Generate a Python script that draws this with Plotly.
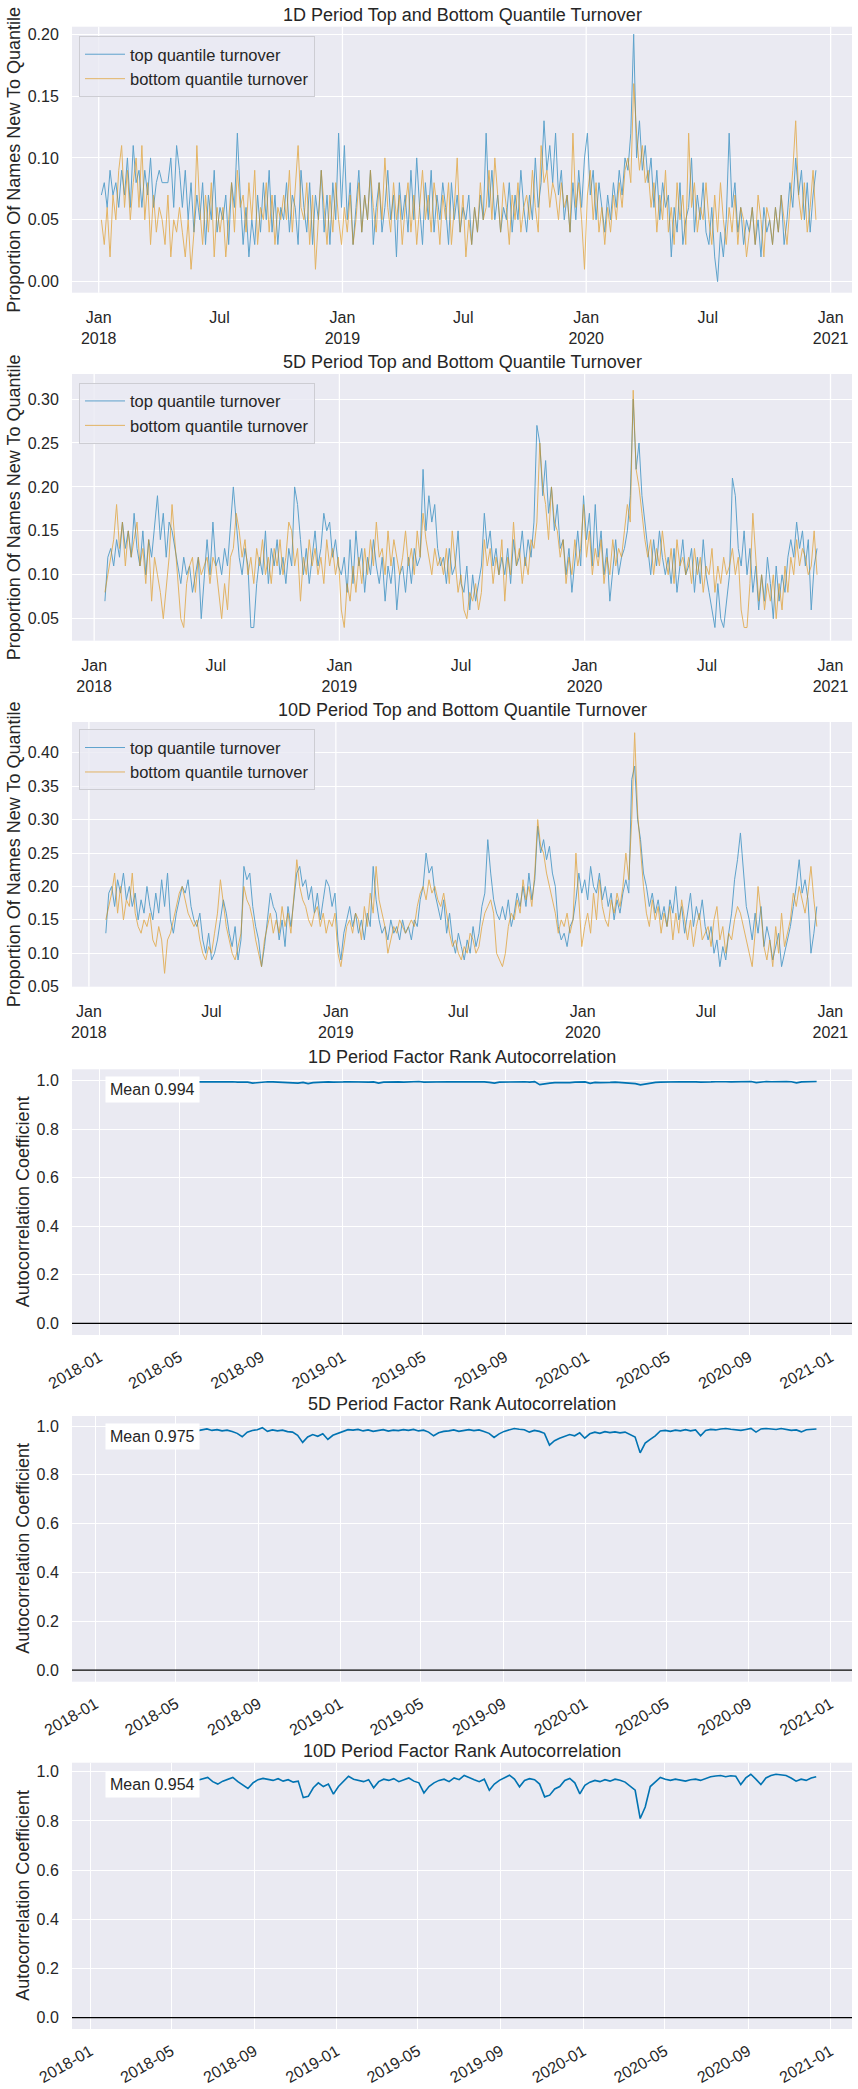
import plotly.graph_objects as go
import pandas as pd

# ------------------------------------------------------------------ data
# 1D quantile turnover (sampled ~every 3 trading days, Jan-2018 .. Dec-2020)
to1_top = [
    .07,.08,.06,.09,.07,.08,.06, .09,.07,.10,.06,.11,.08,.09, .06,.09,.07,.10,.06,.08,.09,
    .08,.08,.08,.10,.06,.11,.09, .06,.09,.05,.08,.04,.07,.05, .08,.03,.07,.05,.09,.04,.06,
    .05,.07,.03,.08,.06,.12,.07, .03,.06,.02,.05,.03,.07,.04, .08,.05,.09,.04,.07,.03,.06,
    .05,.08,.04,.07,.06,.03,.09, .06,.04,.08,.03,.07,.05,.09, .04,.07,.03,.08,.05,.12,.06,
    .11,.05,.08,.03,.06,.09,.04, .07,.05,.09,.03,.06,.08,.04, .06,.09,.05,.07,.02,.08,.05,
    .07,.04,.09,.05,.10,.06,.03, .08,.05,.09,.04,.07,.05,.08, .06,.03,.08,.05,.07,.04,.06,
    .05,.07,.03,.06,.04,.07,.05, .12,.06,.09,.05,.07,.04,.06, .05,.08,.04,.07,.05,.09,.06,
    .04,.07,.05,.10,.06,.08,.13, .09,.11,.08,.12,.07,.09,.05, .07,.04,.08,.05,.09,.06,.10,
    .12,.07,.09,.05,.08,.06,.04, .07,.05,.08,.06,.09,.07,.10, .09,.12,.20,.10,.13,.09,.11,
    .08,.10,.06,.09,.05,.08,.06, .07,.02,.06,.04,.08,.03,.05, .06,.10,.04,.07,.05,.08,.04,
    .03,.06,.02,.00,.04,.02,.05, .12,.06,.08,.04,.06,.03,.05, .04,.06,.03,.05,.02,.06,.04,
    .05,.03,.06,.04,.07,.03,.05, .08,.06,.10,.07,.09,.05,.08, .04,.07,.09,
]
to1_bot = [
    .05,.03,.06,.02,.07,.05,.09, .11,.06,.09,.05,.08,.10,.06, .11,.05,.08,.03,.07,.04,.06,
    .05,.03,.07,.02,.05,.04,.06, .04,.02,.05,.01,.04,.11,.06, .03,.07,.04,.08,.02,.06,.04,
    .06,.02,.05,.08,.04,.09,.06, .07,.04,.08,.05,.09,.03,.06, .05,.08,.04,.07,.03,.06,.05,
    .07,.05,.09,.04,.08,.11,.06, .05,.08,.03,.07,.01,.05,.09, .06,.03,.07,.04,.08,.05,.03,
    .06,.04,.07,.03,.05,.08,.04, .07,.05,.09,.06,.04,.08,.05, .10,.06,.04,.08,.05,.07,.03,
    .06,.08,.04,.07,.03,.06,.09, .05,.07,.04,.08,.06,.03,.07, .05,.08,.03,.06,.10,.04,.07,
    .02,.05,.03,.06,.04,.08,.05, .06,.09,.05,.10,.07,.04,.08, .06,.03,.07,.05,.08,.04,.06,
    .07,.05,.09,.06,.04,.11,.08, .09,.06,.08,.07,.05,.08,.06, .07,.04,.12,.06,.08,.05,.01,
    .07,.09,.05,.08,.04,.06,.03, .06,.04,.07,.05,.08,.06,.09, .10,.08,.16,.12,.09,.11,.08,
    .09,.06,.08,.04,.07,.05,.09, .04,.06,.03,.08,.05,.07,.03, .12,.06,.08,.04,.06,.05,.08,
    .05,.03,.07,.04,.08,.05,.03, .06,.04,.07,.03,.06,.05,.02, .04,.06,.03,.07,.05,.02,.06,
    .05,.03,.06,.04,.07,.05,.03, .06,.09,.13,.07,.05,.08,.04, .06,.09,.05,
]

# 5D quantile turnover
to5_top = [
    .07,.12,.13,.11,
    .14,.12,.16,.13,.15,.12,.17, .13,.11,.15,.10,.14,.12,.16, .19,.14,.17,.12,.16,.15,.13,
    .11,.09,.12,.10,.11,.08,.10, .12,.05,.09,.14,.10,.16,.11, .12,.10,.13,.11,.15,.20,.16,
    .12,.10,.13,.11,.04,.04,.09, .12,.10,.15,.09,.13,.11,.14, .10,.12,.09,.13,.11,.20,.18,
    .14,.10,.13,.09,.12,.15,.11, .13,.17,.15,.16,.12,.14,.11,
    .10,.12,.08,.14,.09,.15,.11, .13,.08,.12,.10,.14,.11,.09, .12,.07,.11,.09,.12,.06,.10,
    .11,.08,.12,.09,.13,.11,.12, .22,.15,.19,.16,.18,.13,.11, .12,.09,.13,.10,.11,.15,.09,
    .08,.11,.06,.10,.07,.09,.11, .17,.13,.15,.11,.13,.10,.12, .10,.13,.09,.14,.11,.12,.15,
    .11,.14,.12,.16,.27,.25,.19, .23,.17,.20,.15,.18,.13,.14, .10,.13,.08,.12,.15,.11,.19,
    .14,.17,.11,.18,.12,.15,.10, .13,.07,.11,.14,.10,.12,.13, .15,.19,.30,.22,.25,.19,.16,
    .13,.10,.14,.11,.15,.12,.10, .12,.09,.13,.08,.11,.14,.10, .11,.13,.08,.12,.09,.14,.10,
    .08,.06,.04,.09,.05,.04,.07, .10,.21,.19,.13,.11,.15,.10, .13,.08,.11,.06,.10,.07,.12,
    .09,.05,.11,.07,.10,.08,.12, .14,.12,.16,.13,.15,.11,.14, .06,.11,.13,
]
to5_bot = [
    .08,.10,.12,.14,
    .18,.13,.16,.11,.15,.12,.14, .16,.11,.13,.09,.14,.07,.12, .10,.08,.05,.09,.12,.18,.14,
    .10,.05,.04,.09,.11,.12,.08, .12,.10,.11,.12,.09,.12,.11, .08,.05,.09,.06,.12,.13,.17,
    .15,.12,.14,.10,.12,.09,.13, .11,.14,.10,.12,.09,.13,.11, .14,.10,.12,.16,.15,.11,.13,
    .07,.12,.10,.14,.11,.13,.10, .12,.09,.14,.11,.13,.10,.12,
    .06,.04,.09,.07,.11,.08,.12, .09,.13,.10,.14,.11,.16,.12, .13,.10,.15,.11,.14,.12,.10,
    .12,.15,.11,.13,.10,.15,.12, .17,.14,.12,.10,.13,.11,.12, .10,.13,.09,.15,.11,.08,.10,
    .06,.05,.08,.07,.09,.06,.08, .14,.11,.13,.09,.12,.10,.14, .07,.12,.10,.16,.11,.13,.09,
    .12,.10,.14,.13,.16,.25,.20, .18,.14,.20,.16,.15,.12,.14, .09,.12,.10,.14,.11,.13,.18,
    .12,.15,.10,.13,.11,.14,.09, .12,.10,.14,.11,.13,.12,.15, .18,.16,.31,.22,.20,.17,.14,
    .12,.14,.10,.13,.11,.15,.12, .10,.13,.09,.14,.11,.12,.10, .12,.09,.13,.10,.12,.08,.11,
    .10,.13,.08,.11,.09,.12,.10, .11,.13,.10,.12,.06,.04,.04, .09,.17,.12,.07,.10,.06,.09,
    .07,.10,.05,.09,.06,.11,.08, .12,.10,.14,.11,.13,.12,.10, .11,.15,.10,
]

# 10D quantile turnover
to10_top = [
    .13,.19,
    .20,.17,.21,.19,.22,.18,.20, .17,.19,.15,.18,.16,.20,.17, .15,.19,.16,.21,.17,.22,.15,
    .13,.16,.18,.20,.19,.21,.17, .15,.14,.16,.12,.10,.13,.09, .10,.12,.15,.18,.16,.13,.11,
    .14,.09,.12,.23,.21,.22,.17, .14,.12,.08,.11,.15,.19,.17, .16,.12,.15,.11,.17,.14,.18,
    .22,.23,.20,.21,.18,.20,.16, .19,.15,.18,.21,.20,.17,.19,
    .12,.09,.13,.15,.17,.14,.16, .13,.15,.12,.16,.14,.23,.18, .15,.13,.14,.12,.15,.13,.14,
    .12,.15,.13,.14,.12,.15,.14, .18,.20,.25,.22,.23,.19,.17, .15,.18,.13,.16,.12,.10,.13,
    .11,.09,.12,.10,.14,.11,.13, .17,.19,.27,.22,.18,.16,.15, .17,.15,.18,.14,.16,.19,.17,
    .20,.17,.22,.18,.21,.29,.25, .27,.24,.26,.22,.20,.14,.12, .13,.11,.14,.15,.18,.22,.19,
    .21,.18,.23,.20,.19,.22,.18, .20,.17,.19,.15,.18,.16,.19, .21,.19,.36,.38,.30,.27,.22,
    .20,.17,.19,.16,.18,.15,.17, .14,.18,.16,.20,.15,.17,.13, .16,.19,.14,.17,.15,.18,.14,
    .12,.14,.10,.12,.08,.11,.09, .13,.16,.21,.24,.28,.22,.17, .15,.12,.16,.13,.17,.11,.14,
    .12,.09,.11,.13,.08,.10,.12, .14,.17,.20,.24,.19,.21,.18, .10,.13,.17,
]
to10_bot = [
    .15,.17,
    .19,.22,.16,.20,.15,.18,.17, .22,.16,.14,.13,.15,.14,.16, .12,.11,.14,.12,.07,.12,.13,
    .15,.17,.19,.20,.18,.16,.15, .14,.15,.12,.10,.09,.11,.10, .13,.16,.21,.17,.14,.12,.10,
    .09,.11,.13,.20,.18,.17,.15, .12,.10,.08,.12,.14,.16,.13, .15,.13,.17,.14,.16,.13,.18,
    .24,.20,.18,.17,.15,.14,.16, .17,.14,.16,.13,.15,.14,.16,
    .10,.08,.11,.14,.15,.13,.16, .15,.12,.17,.14,.19,.16,.23, .18,.16,.14,.10,.12,.14,.13,
    .15,.14,.13,.14,.15,.14,.17, .19,.20,.18,.21,.19,.20,.18, .17,.19,.16,.13,.11,.12,.10,
    .09,.11,.10,.13,.12,.10,.11, .14,.16,.17,.18,.16,.10,.09, .08,.10,.14,.16,.15,.18,.16,
    .21,.18,.20,.17,.22,.30,.26, .25,.22,.20,.18,.16,.13,.15, .14,.16,.13,.15,.25,.18,.11,
    .14,.16,.13,.19,.15,.21,.17, .15,.14,.18,.16,.19,.17,.20, .25,.21,.30,.43,.31,.25,.20,
    .16,.14,.18,.15,.17,.13,.16, .14,.17,.12,.16,.13,.18,.15, .12,.15,.11,.14,.16,.12,.13,
    .14,.11,.15,.17,.12,.14,.10, .13,.12,.15,.17,.16,.14,.12, .10,.08,.13,.20,.16,.11,.09,
    .12,.08,.14,.10,.16,.11,.13, .15,.19,.17,.20,.18,.16,.19, .23,.18,.14,
]

# factor rank autocorrelation (~weekly)
ac1 = [
    .995,.996,.994,.995, .996,.995,.994,.996, .995,.994,.996,.995, .994,.996,.995,.994,
    .995,.996,.994,.995, .996,.995,.996,.994, .995,.996,.994,.995, .994,.990,.993,.995,
    .996,.995,.994,.996, .995,.994,.990,.993, .988,.992,.994,.993, .995,.994,.996,.995,
    .996,.995,.997,.995, .994,.995,.990,.994, .995,.996,.995,.994, .996,.995,.997,.994,
    .995,.993,.996,.995, .996,.995,.997,.996, .995,.996,.994,.995, .993,.990,.994,.995,
    .996,.997,.995,.996, .994,.996,.984,.988, .990,.992,.991,.993, .992,.994,.993,.995,
    .989,.993,.992,.994, .993,.994,.992,.993, .991,.988,.983,.987, .991,.993,.994,.995,
    .994,.995,.996,.995, .996,.995,.994,.996, .995,.996,.997,.996, .995,.996,.997,.996,
    .997,.992,.996,.997, .996,.997,.996,.997, .996,.991,.995,.996, .997,.997,
]
ac5 = [
    .980,.981,.979,.982, .978,.983,.980,.982, .977,.981,.984,.979, .982,.978,.981,.983,
    .979,.982,.980,.984, .988,.982,.985,.980, .983,.978,.970,.956, .975,.982,.985,.993,
    .978,.984,.980,.983, .977,.975,.962,.933, .955,.965,.958,.968, .945,.962,.970,.975,
    .985,.983,.986,.980, .984,.978,.982,.985, .979,.983,.981,.985, .982,.986,.980,.983,
    .975,.960,.972,.978, .980,.984,.978,.982, .985,.981,.984,.978, .970,.953,.968,.978,
    .983,.990,.987,.985, .975,.982,.978,.970, .922,.940,.950,.958, .965,.960,.972,.950,
    .968,.975,.970,.977, .973,.976,.972,.975, .965,.955,.890,.930, .945,.960,.980,.982,
    .978,.983,.980,.985, .980,.984,.960,.982, .986,.984,.988,.990, .987,.985,.982,.986,
    .990,.975,.988,.990, .989,.986,.990,.987, .982,.984,.976,.985, .987,.988,
]
ac10 = [
    .960,.965,.958,.962, .955,.963,.968,.960, .957,.965,.960,.966, .962,.955,.963,.960,
    .965,.958,.966,.970, .977,.960,.950,.962, .970,.977,.960,.945, .932,.955,.968,.973,
    .970,.965,.972,.962, .968,.958,.962,.895, .900,.935,.955,.940, .950,.909,.940,.960,
    .982,.970,.965,.960, .968,.935,.960,.970, .965,.972,.960,.968, .975,.962,.955,.914,
    .940,.955,.965,.970, .960,.975,.968,.985, .975,.968,.960,.970, .925,.950,.965,.975,
    .986,.970,.939,.965, .972,.968,.950,.898, .905,.930,.940,.965, .973,.955,.910,.945,
    .958,.965,.960,.968, .962,.970,.966,.958, .940,.925,.810,.857, .940,.960,.977,.970,
    .965,.970,.967,.962, .968,.970,.965,.972, .980,.983,.985,.980, .984,.982,.948,.975,
    .990,.970,.948,.975, .985,.990,.987,.985, .975,.962,.970,.965, .975,.980,
]
ac_means = ["Mean 0.994", "Mean 0.975", "Mean 0.954"]

turn_titles = ["1D Period Top and Bottom Quantile Turnover",
               "5D Period Top and Bottom Quantile Turnover",
               "10D Period Top and Bottom Quantile Turnover"]
ac_titles = ["1D Period Factor Rank Autocorrelation",
             "5D Period Factor Rank Autocorrelation",
             "10D Period Factor Rank Autocorrelation"]
series_names = ["top quantile turnover", "bottom quantile turnover"]

turn_spans = [("2018-01-05", "2020-12-10"), ("2018-01-17", "2020-12-12"), ("2018-01-26", "2020-12-12")]
ac_spans = [("2018-01-12", "2020-12-11"), ("2018-01-17", "2020-12-11"), ("2018-01-26", "2020-12-11")]

turn_xticks = ["2018-01-01", "2018-07-01", "2019-01-01", "2019-07-01", "2020-01-01", "2020-07-01", "2021-01-01"]
turn_xtext = ["Jan<br>2018", "Jul", "Jan<br>2019", "Jul", "Jan<br>2020", "Jul", "Jan<br>2021"]
jan_ticks = ["2018-01-01", "2019-01-01", "2020-01-01", "2021-01-01"]
ac_xticks = ["2018-01-01", "2018-05-01", "2018-09-01", "2019-01-01", "2019-05-01", "2019-09-01",
             "2020-01-01", "2020-05-01", "2020-09-01", "2021-01-01"]
ac_xtext = ["2018-01", "2018-05", "2018-09", "2019-01", "2019-05", "2019-09",
            "2020-01", "2020-05", "2020-09", "2021-01"]

# ------------------------------------------------------------------ style / layout
W, H = 858, 2089
FONT = "Liberation Sans, Arial, Helvetica, sans-serif"
TXT = "#262626"
BLUE = "#0173B2"
ORANGE = "#DE8F05"
BG = "#EAEAF2"

XL, XR = 72, 852
panels = [(26.7, 292.7), (374, 640.7), (722, 986.7), (1069.3, 1335), (1416, 1681.7), (1762.7, 2029)]
xranges = [["2017-11-22", "2021-02-02"], ["2017-11-29", "2021-02-02"], ["2017-12-07", "2021-02-02"],
           ["2017-11-21", "2021-02-02"], ["2017-11-27", "2021-02-02"], ["2017-12-05", "2021-02-02"]]
yranges = [[-0.0089, 0.2060], [0.025, 0.3285], [0.050, 0.446],
           [-0.048, 1.047], [-0.047, 1.041], [-0.046, 1.037]]
yticks = [[0, .05, .10, .15, .20], [.05, .10, .15, .20, .25, .30], [.05, .10, .15, .20, .25, .30, .35, .40],
          [0, .2, .4, .6, .8, 1.0], [0, .2, .4, .6, .8, 1.0], [0, .2, .4, .6, .8, 1.0]]


def px_x(x):
    return x / W


def px_y(y):
    return 1 - y / H


fig = go.Figure()

turn_data = [(to1_top, to1_bot), (to5_top, to5_bot), (to10_top, to10_bot)]
for i, (top, bot) in enumerate(turn_data):
    ax = "" if i == 0 else str(i + 1)
    leg = "legend" if i == 0 else "legend" + str(i + 1)
    s, e = turn_spans[i]
    for vals, col, name in ((top, BLUE, series_names[0]), (bot, ORANGE, series_names[1])):
        d = pd.date_range(s, e, periods=len(vals))
        fig.add_trace(go.Scatter(x=d, y=vals, mode="lines", name=name,
                                 line=dict(color=col, width=1), opacity=0.6,
                                 xaxis="x" + ax, yaxis="y" + ax, legend=leg))

for j, vals in enumerate((ac1, ac5, ac10)):
    i = j + 3
    s, e = ac_spans[j]
    d = pd.date_range(s, e, periods=len(vals))
    fig.add_trace(go.Scatter(x=d, y=vals, mode="lines", showlegend=False,
                             line=dict(color=BLUE, width=1.6),
                             xaxis="x" + str(i + 1), yaxis="y" + str(i + 1)))

layout = dict(width=W, height=H, margin=dict(l=0, r=0, t=0, b=0),
              paper_bgcolor="white", plot_bgcolor=BG,
              font=dict(family=FONT, color=TXT, size=16))
shapes = []
annotations = []
tickfont = dict(family=FONT, size=16, color=TXT)

for i in range(6):
    n = "" if i == 0 else str(i + 1)
    t, b = panels[i]
    xa = dict(domain=[px_x(XL), px_x(XR)], anchor="y" + n, type="date", range=xranges[i],
              showline=False, zeroline=False, tickfont=tickfont, automargin=False,
              ticks="outside", tickcolor="rgba(0,0,0,0)", fixedrange=True)
    if i < 3:
        xa.update(tickmode="array", tickvals=turn_xticks, ticktext=turn_xtext,
                  showgrid=False, ticklen=10, tickangle=0)
        for jd in jan_ticks:
            shapes.append(dict(type="line", xref="x" + n, yref="y" + n + " domain",
                               x0=jd, x1=jd, y0=0, y1=1, layer="below",
                               line=dict(color="white", width=1.3)))
    else:
        xa.update(tickmode="array", tickvals=ac_xticks, ticktext=ac_xtext,
                  showgrid=True, gridcolor="white", gridwidth=1.3, ticklen=6, tickangle=-30)
    ya = dict(domain=[px_y(b), px_y(t)], anchor="x" + n, range=yranges[i],
              tickmode="array", tickvals=yticks[i],
              tickformat=".2f" if i < 3 else ".1f",
              showgrid=True, gridcolor="white", gridwidth=1.3,
              showline=False, zeroline=False, tickfont=tickfont, automargin=False,
              ticks="outside", ticklen=9, tickcolor="rgba(0,0,0,0)", fixedrange=True)
    layout["xaxis" + n] = xa
    layout["yaxis" + n] = ya

    # subplot title
    title = turn_titles[i] if i < 3 else ac_titles[i - 3]
    annotations.append(dict(text=title, xref="paper", yref="paper",
                            x=px_x((XL + XR) / 2), y=px_y(t - 12), xanchor="center", yanchor="middle",
                            showarrow=False, font=dict(family=FONT, size=18, color=TXT)))
    # y axis title
    ylab = "Proportion Of Names New To Quantile" if i < 3 else "Autocorrelation Coefficient"
    annotations.append(dict(text=ylab, xref="paper", yref="paper", textangle=-90,
                            x=px_x(14 if i < 3 else 23), y=px_y((t + b) / 2),
                            xanchor="center", yanchor="middle", showarrow=False,
                            font=dict(family=FONT, size=18, color=TXT)))

# legends
legend_tops = [36, 382.7, 729.3]
for i, lt in enumerate(legend_tops):
    key = "legend" if i == 0 else "legend" + str(i + 1)
    layout[key] = dict(x=px_x(79), y=px_y(lt), xanchor="left", yanchor="top",
                       bgcolor="rgba(234,234,242,0.8)", bordercolor="#CDCDD3", borderwidth=1,
                       font=dict(family=FONT, size=16.5, color=TXT), itemwidth=40,
                       tracegroupgap=0)

# autocorrelation extras: zero line and mean box
mean_tops = [1076, 1423.3, 1771]
for j in range(3):
    n = str(j + 4)
    shapes.append(dict(type="line", xref="x" + n + " domain", yref="y" + n,
                       x0=0, x1=1, y0=0, y1=0, line=dict(color="black", width=1.3)))
    annotations.append(dict(text=ac_means[j], xref="paper", yref="paper",
                            x=px_x(105), y=px_y(mean_tops[j]), xanchor="left", yanchor="top",
                            showarrow=False, bgcolor="white", borderpad=4,
                            font=dict(family=FONT, size=16, color=TXT)))

layout["shapes"] = shapes
layout["annotations"] = annotations
fig.update_layout(**layout)
fig.write_html("out.html")
